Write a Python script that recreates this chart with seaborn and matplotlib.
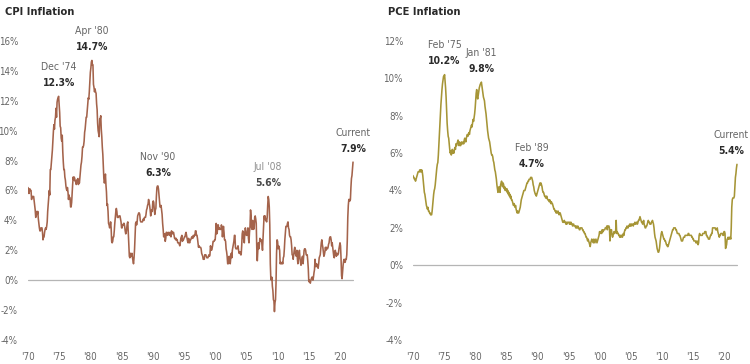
import matplotlib
matplotlib.use("Agg")
import matplotlib.pyplot as plt
import seaborn as sns
import pandas as pd
import numpy as np

sns.set_theme(style="white")
plt.rcParams['font.family'] = ['DejaVu Sans']
plt.rcParams['font.stretch'] = 'condensed'

start_month = "1970-01"

# CPI year-over-year inflation, monthly, Jan 1970 - Feb 2022 (%)
cpi_values = [
    6.2, 6.1, 5.8, 6.1, 6.1, 6.0, 6.0, 5.4, 5.6, 5.6, 5.6, 5.6,   # 1970
    5.3, 5.0, 4.7, 4.2, 4.4, 4.6, 4.4, 4.6, 4.1, 3.8, 3.5, 3.3,   # 1971
    3.3, 3.5, 3.5, 3.5, 3.2, 2.7, 2.9, 2.9, 3.2, 3.4, 3.5, 3.4,   # 1972
    3.6, 3.9, 4.6, 5.1, 5.5, 6.0, 5.7, 7.4, 7.4, 7.8, 8.3, 8.7,   # 1973
    9.4, 10.0, 10.4, 10.1, 10.7, 10.9, 11.5, 10.9, 11.9, 12.1, 12.2, 12.3,  # 1974
    11.8, 11.2, 10.3, 10.2, 9.5, 9.3, 9.7, 8.6, 7.9, 7.4, 7.4, 6.9,  # 1975
    6.7, 6.3, 6.1, 6.0, 6.2, 5.9, 5.4, 5.7, 5.5, 5.5, 4.9, 4.9,   # 1976
    5.2, 5.9, 6.4, 6.9, 6.7, 6.9, 6.8, 6.6, 6.6, 6.4, 6.7, 6.7,   # 1977
    6.8, 6.4, 6.6, 6.5, 6.9, 7.4, 7.7, 7.9, 8.3, 8.9, 8.9, 9.0,   # 1978
    9.3, 9.9, 10.1, 10.5, 10.9, 10.9, 11.3, 11.8, 12.2, 12.1, 12.6, 13.3,  # 1979
    13.9, 14.2, 14.6, 14.7, 14.4, 14.4, 13.1, 12.9, 12.6, 12.8, 12.6, 12.5,  # 1980
    11.8, 11.4, 10.5, 10.0, 9.8, 9.6, 10.8, 10.8, 11.0, 10.1, 9.6, 8.9,  # 1981
    8.4, 7.6, 6.8, 6.5, 6.7, 7.1, 6.4, 5.9, 5.0, 5.1, 4.6, 3.8,   # 1982
    3.7, 3.5, 3.6, 3.9, 3.5, 2.6, 2.5, 2.6, 2.9, 2.9, 3.3, 3.8,   # 1983
    4.2, 4.6, 4.8, 4.6, 4.2, 4.2, 4.2, 4.3, 4.3, 4.3, 4.1, 3.9,   # 1984
    3.5, 3.5, 3.7, 3.7, 3.8, 3.8, 3.6, 3.3, 3.1, 3.2, 3.5, 3.8,   # 1985
    3.9, 3.1, 2.3, 1.6, 1.5, 1.8, 1.6, 1.6, 1.8, 1.5, 1.3, 1.1,   # 1986
    1.5, 2.1, 3.0, 3.8, 3.9, 3.7, 3.9, 4.3, 4.4, 4.5, 4.5, 4.4,   # 1987
    4.0, 3.9, 3.9, 3.9, 3.9, 4.0, 4.1, 4.0, 4.2, 4.2, 4.2, 4.4,   # 1988
    4.7, 4.8, 5.0, 5.1, 5.4, 5.2, 5.0, 4.7, 4.3, 4.5, 4.7, 4.6,   # 1989
    5.2, 5.3, 5.2, 4.7, 4.4, 4.7, 4.8, 5.6, 6.2, 6.3, 6.3, 6.1,   # 1990
    5.7, 5.3, 4.9, 4.9, 5.0, 4.7, 4.4, 3.8, 3.4, 2.9, 3.0, 3.1,   # 1991
    2.6, 2.8, 3.2, 3.2, 3.0, 3.1, 3.2, 3.1, 3.0, 3.2, 3.0, 2.9,   # 1992
    3.3, 3.2, 3.1, 3.2, 3.2, 3.0, 2.8, 2.8, 2.7, 2.8, 2.7, 2.7,   # 1993
    2.5, 2.5, 2.5, 2.4, 2.3, 2.5, 2.8, 2.9, 3.0, 2.6, 2.7, 2.7,   # 1994
    2.8, 2.9, 2.9, 3.1, 3.2, 3.0, 2.8, 2.6, 2.5, 2.8, 2.6, 2.5,   # 1995
    2.7, 2.7, 2.8, 2.9, 2.9, 2.8, 3.0, 2.9, 3.0, 3.0, 3.3, 3.3,   # 1996
    3.0, 3.0, 2.8, 2.5, 2.2, 2.3, 2.2, 2.2, 2.2, 2.1, 1.8, 1.7,   # 1997
    1.6, 1.4, 1.4, 1.4, 1.7, 1.7, 1.7, 1.6, 1.5, 1.5, 1.5, 1.6,   # 1998
    1.7, 1.6, 1.7, 2.3, 2.1, 2.0, 2.1, 2.3, 2.6, 2.6, 2.6, 2.7,   # 1999
    2.7, 3.2, 3.8, 3.1, 3.2, 3.7, 3.7, 3.4, 3.5, 3.4, 3.4, 3.4,   # 2000
    3.7, 3.5, 2.9, 3.3, 3.6, 3.2, 2.7, 2.7, 2.6, 2.1, 1.9, 1.6,   # 2001
    1.1, 1.1, 1.5, 1.6, 1.2, 1.1, 1.5, 1.8, 1.5, 2.0, 2.2, 2.4,   # 2002
    2.6, 3.0, 3.0, 2.2, 2.1, 2.1, 2.1, 2.2, 2.3, 2.0, 1.8, 1.9,   # 2003
    1.9, 1.7, 1.7, 2.3, 3.1, 3.3, 3.0, 2.7, 2.5, 3.2, 3.5, 3.3,   # 2004
    3.0, 3.0, 3.1, 3.5, 2.8, 2.5, 3.2, 3.6, 4.7, 4.3, 3.5, 3.4,   # 2005
    4.0, 3.6, 3.4, 3.5, 4.2, 4.3, 4.1, 3.8, 2.1, 1.3, 2.0, 2.5,   # 2006
    2.1, 2.4, 2.8, 2.6, 2.7, 2.7, 2.4, 2.0, 2.8, 3.5, 4.3, 4.1,   # 2007
    4.3, 4.0, 4.0, 3.9, 4.2, 5.0, 5.6, 5.4, 4.9, 3.7, 1.1, 0.1,   # 2008
    0.0, 0.2, -0.4, -0.7, -1.3, -1.4, -2.1, -1.5, -1.3, -0.2, 1.8, 2.7,  # 2009
    2.6, 2.1, 2.3, 2.2, 2.0, 1.1, 1.2, 1.1, 1.1, 1.2, 1.1, 1.5,   # 2010
    1.6, 2.1, 2.7, 3.2, 3.6, 3.6, 3.6, 3.8, 3.9, 3.5, 3.4, 3.0,   # 2011
    2.9, 2.9, 2.7, 2.3, 1.7, 1.7, 1.4, 1.7, 2.0, 2.2, 1.8, 1.7,   # 2012
    1.6, 2.0, 1.5, 1.1, 1.4, 1.8, 2.0, 1.5, 1.2, 1.0, 1.2, 1.5,   # 2013
    1.6, 1.1, 1.5, 2.0, 2.1, 2.1, 2.0, 1.7, 1.7, 1.7, 1.3, 0.8,   # 2014
    -0.1, 0.0, -0.1, -0.2, 0.0, 0.1, 0.2, 0.2, 0.0, 0.2, 0.5, 0.7,  # 2015
    1.4, 1.0, 0.9, 1.1, 1.0, 1.0, 0.8, 1.1, 1.5, 1.6, 1.7, 2.1,   # 2016
    2.5, 2.7, 2.4, 2.2, 1.9, 1.6, 1.7, 1.9, 2.2, 2.0, 2.2, 2.1,   # 2017
    2.1, 2.2, 2.4, 2.5, 2.8, 2.9, 2.9, 2.7, 2.3, 2.5, 2.2, 1.9,   # 2018
    1.6, 1.5, 1.9, 2.0, 1.8, 1.6, 1.8, 1.7, 1.7, 1.8, 2.1, 2.3,   # 2019
    2.5, 2.3, 1.5, 0.3, 0.1, 0.6, 1.0, 1.3, 1.4, 1.2, 1.2, 1.4,   # 2020
    1.4, 1.7, 2.6, 4.2, 5.0, 5.4, 5.4, 5.3, 5.4, 6.2, 6.8, 7.0,   # 2021
    7.5, 7.9,                                                    # 2022
]

# Core PCE year-over-year inflation, monthly, Jan 1970 - Feb 2022 (%)
pce_values = [
    4.8, 4.7, 4.7, 4.6, 4.6, 4.5, 4.6, 4.7, 4.8, 4.9, 5.0, 5.0,   # 1970
    5.0, 5.1, 5.0, 5.1, 5.0, 5.1, 5.0, 4.8, 4.5, 4.2, 3.9, 3.8,   # 1971
    3.6, 3.4, 3.2, 3.1, 3.0, 3.1, 2.9, 2.9, 2.8, 2.8, 2.7, 2.7,   # 1972
    2.7, 2.9, 3.2, 3.5, 3.8, 4.0, 4.1, 4.3, 4.6, 4.9, 5.2, 5.4,   # 1973
    5.5, 5.9, 6.4, 7.0, 7.6, 8.1, 8.6, 9.0, 9.4, 9.7, 9.9, 10.1,  # 1974
    10.1, 10.2, 9.9, 9.5, 9.0, 8.3, 7.6, 7.2, 6.9, 6.8, 6.5, 6.2,  # 1975
    6.0, 6.1, 5.9, 6.0, 6.2, 6.0, 6.1, 6.0, 6.2, 6.3, 6.2, 6.5,   # 1976
    6.4, 6.5, 6.6, 6.7, 6.5, 6.4, 6.6, 6.5, 6.4, 6.5, 6.6, 6.5,   # 1977
    6.5, 6.6, 6.5, 6.7, 6.8, 6.7, 6.6, 6.8, 6.9, 7.0, 6.9, 7.0,   # 1978
    7.1, 7.0, 7.2, 7.3, 7.4, 7.5, 7.4, 7.6, 7.8, 7.7, 7.9, 8.1,   # 1979
    8.4, 8.8, 9.2, 9.4, 9.0, 8.9, 9.1, 9.3, 9.5, 9.6, 9.7, 9.7,   # 1980
    9.8, 9.6, 9.4, 9.2, 9.0, 8.9, 8.8, 8.5, 8.3, 8.1, 7.8, 7.5,   # 1981
    7.2, 7.0, 6.8, 6.7, 6.6, 6.4, 6.2, 6.0, 5.9, 5.9, 5.8, 5.6,   # 1982
    5.5, 5.3, 5.1, 5.0, 4.8, 4.6, 4.3, 4.1, 3.9, 4.0, 4.2, 4.1,   # 1983
    3.9, 4.3, 4.4, 4.5, 4.3, 4.2, 4.4, 4.3, 4.1, 4.2, 4.0, 4.1,   # 1984
    4.0, 4.1, 3.9, 4.0, 3.8, 3.9, 3.7, 3.8, 3.6, 3.7, 3.5, 3.5,   # 1985
    3.4, 3.3, 3.2, 3.3, 3.2, 3.1, 3.2, 3.0, 2.9, 2.8, 2.9, 2.8,   # 1986
    2.8, 2.9, 3.0, 3.1, 3.3, 3.5, 3.6, 3.7, 3.8, 3.9, 4.0, 4.0,   # 1987
    4.0, 4.1, 4.2, 4.3, 4.4, 4.4, 4.5, 4.5, 4.6, 4.6, 4.6, 4.7,   # 1988
    4.7, 4.7, 4.6, 4.5, 4.3, 4.2, 4.0, 3.9, 3.8, 3.8, 3.7, 3.8,   # 1989
    3.9, 4.0, 4.1, 4.2, 4.3, 4.4, 4.3, 4.4, 4.3, 4.2, 4.0, 3.9,   # 1990
    3.9, 3.8, 3.7, 3.7, 3.6, 3.6, 3.7, 3.6, 3.5, 3.5, 3.5, 3.4,   # 1991
    3.5, 3.4, 3.3, 3.4, 3.3, 3.3, 3.2, 3.1, 3.0, 3.0, 2.9, 2.9,   # 1992
    2.8, 2.9, 2.8, 2.8, 2.9, 2.8, 2.7, 2.8, 2.8, 2.7, 2.6, 2.5,   # 1993
    2.4, 2.3, 2.3, 2.3, 2.4, 2.3, 2.3, 2.2, 2.3, 2.2, 2.3, 2.3,   # 1994
    2.3, 2.3, 2.2, 2.3, 2.2, 2.3, 2.2, 2.2, 2.1, 2.2, 2.2, 2.1,   # 1995
    2.1, 2.1, 2.0, 2.1, 2.0, 2.0, 2.1, 2.0, 2.0, 1.9, 1.9, 2.0,   # 1996
    2.0, 2.0, 2.0, 1.9, 1.9, 1.8, 1.8, 1.7, 1.7, 1.6, 1.5, 1.5,   # 1997
    1.4, 1.3, 1.4, 1.3, 1.2, 1.1, 1.0, 1.2, 1.3, 1.4, 1.3, 1.3,   # 1998
    1.2, 1.4, 1.3, 1.2, 1.3, 1.4, 1.3, 1.2, 1.3, 1.4, 1.5, 1.6,   # 1999
    1.8, 1.7, 1.8, 1.8, 1.7, 1.9, 1.8, 1.8, 1.9, 1.9, 1.9, 2.0,   # 2000
    2.0, 2.0, 2.1, 1.9, 2.1, 2.1, 2.1, 2.0, 1.3, 1.8, 1.9, 1.9,   # 2001
    1.6, 1.5, 1.6, 1.7, 1.8, 1.7, 1.8, 1.8, 2.4, 1.7, 1.8, 1.7,   # 2002
    1.7, 1.6, 1.6, 1.5, 1.6, 1.5, 1.6, 1.6, 1.5, 1.6, 1.7, 1.6,   # 2003
    1.8, 1.9, 1.9, 2.0, 2.0, 2.1, 2.0, 2.0, 2.1, 2.1, 2.2, 2.1,   # 2004
    2.2, 2.1, 2.2, 2.2, 2.2, 2.1, 2.2, 2.2, 2.3, 2.2, 2.2, 2.3,   # 2005
    2.3, 2.2, 2.3, 2.4, 2.4, 2.5, 2.6, 2.5, 2.4, 2.3, 2.3, 2.2,   # 2006
    2.3, 2.4, 2.2, 2.1, 2.0, 2.0, 2.1, 2.1, 2.2, 2.3, 2.4, 2.3,   # 2007
    2.3, 2.2, 2.2, 2.2, 2.3, 2.3, 2.4, 2.3, 2.2, 2.0, 1.7, 1.5,   # 2008
    1.4, 1.3, 1.1, 0.9, 0.8, 0.7, 0.7, 0.8, 1.0, 1.3, 1.5, 1.7,   # 2009
    1.8, 1.7, 1.6, 1.5, 1.4, 1.4, 1.3, 1.3, 1.2, 1.1, 1.1, 1.0,   # 2010
    1.0, 1.1, 1.2, 1.3, 1.4, 1.5, 1.6, 1.7, 1.8, 1.9, 1.9, 2.0,   # 2011
    2.0, 2.0, 2.0, 1.9, 1.9, 1.8, 1.7, 1.7, 1.7, 1.7, 1.6, 1.6,   # 2012
    1.5, 1.4, 1.3, 1.3, 1.3, 1.4, 1.5, 1.5, 1.5, 1.6, 1.6, 1.6,   # 2013
    1.6, 1.6, 1.6, 1.7, 1.7, 1.6, 1.6, 1.6, 1.6, 1.6, 1.5, 1.5,   # 2014
    1.4, 1.4, 1.3, 1.3, 1.3, 1.3, 1.2, 1.2, 1.3, 1.2, 1.1, 1.2,   # 2015
    1.6, 1.7, 1.6, 1.6, 1.6, 1.6, 1.6, 1.7, 1.7, 1.7, 1.7, 1.8,   # 2016
    1.8, 1.8, 1.6, 1.6, 1.5, 1.5, 1.4, 1.4, 1.4, 1.5, 1.6, 1.6,   # 2017
    1.7, 1.7, 2.0, 2.0, 2.0, 2.0, 2.0, 2.0, 1.9, 1.9, 1.9, 2.0,   # 2018
    1.8, 1.7, 1.6, 1.5, 1.6, 1.6, 1.7, 1.7, 1.7, 1.7, 1.6, 1.6,   # 2019
    1.8, 1.8, 1.7, 0.9, 1.0, 1.1, 1.4, 1.4, 1.5, 1.4, 1.4, 1.5,   # 2020
    1.5, 1.4, 2.0, 3.1, 3.5, 3.6, 3.6, 3.6, 3.7, 4.2, 4.7, 4.9,   # 2021
    5.2, 5.4,                                                    # 2022
]

cpi_callouts = [("1974-12", "Dec '74"), ("1980-04", "Apr '80"),
                ("1990-11", "Nov '90"), ("2008-07", "Jul '08")]
pce_callouts = [("1975-02", "Feb '75"), ("1981-01", "Jan '81"),
                ("1989-02", "Feb '89")]

tick_years = list(range(1970, 2021, 5))
tick_labels = ["'" + str(y)[2:] for y in tick_years]

cpi_yticks = [-4, -2, 0, 2, 4, 6, 8, 10, 12, 14, 16]
pce_yticks = [-4, -2, 0, 2, 4, 6, 8, 10, 12]

CPI_COLOR = "#A4634B"
PCE_COLOR = "#A69536"
GRAY_TXT = "#666666"
DARK_TXT = "#2a2a2a"

cpi_df = pd.DataFrame({"date": pd.date_range(start_month, periods=len(cpi_values), freq="MS"),
                       "value": cpi_values})
pce_df = pd.DataFrame({"date": pd.date_range(start_month, periods=len(pce_values), freq="MS"),
                       "value": pce_values})

fig = plt.figure(figsize=(7.5, 3.64), dpi=100)
W, H = 750.0, 364.0
X_LO, X_HI = pd.Timestamp("1969-12-17"), pd.Timestamp("2022-04-20")


def make_axes(x0_px, px_per_year, y_top_px, y_bot_px):
    left = x0_px - 0.05 * px_per_year
    right = x0_px + 52.3 * px_per_year
    return fig.add_axes([left / W, (H - y_bot_px) / H, (right - left) / W, (y_bot_px - y_top_px) / H])


ax1 = make_axes(28, 6.24, 41, 340)
ax2 = make_axes(413, 6.22, 41, 340)


def style_panel(ax, df, color, yticks, callouts, special=None, current_dx=0.0):
    sns.lineplot(data=df, x="date", y="value", ax=ax, color=color, linewidth=1.15)
    ax.set_xlim(X_LO, X_HI)
    ax.set_ylim(yticks[0], yticks[-1])
    ax.axhline(0, xmin=0.001, xmax=(df["date"].iloc[-1] - X_LO) / (X_HI - X_LO),
               color="#b5b5b5", linewidth=0.9, zorder=0)
    ax.set_xticks([pd.Timestamp(f"{y}-01-01") for y in tick_years])
    ax.set_xticklabels(tick_labels)
    ax.set_yticks(yticks)
    ax.set_yticklabels([f"{t}%" for t in yticks])
    ax.tick_params(axis="both", length=0, labelsize=7, labelcolor=GRAY_TXT)
    ax.tick_params(axis="y", pad=7)
    ax.tick_params(axis="x", pad=9)
    ax.set_xlabel("")
    ax.set_ylabel("")
    for s in ax.spines.values():
        s.set_visible(False)
    ax.set_facecolor("none")
    ax.grid(False)

    items = []
    for month, lab in callouts:
        d = pd.Timestamp(month + "-01")
        v = float(df.loc[df["date"] == d, "value"].iloc[0])
        items.append((d, v, lab, 0.0))
    items.append((df["date"].iloc[-1], float(df["value"].iloc[-1]), "Current", current_dx))
    for d, v, lab, dx in items:
        dcol, vcol = GRAY_TXT, DARK_TXT
        if special is not None and lab == special:
            dcol, vcol = "#8f8f8f", "#4a4a4a"
        ax.annotate(lab, (d, v), xytext=(dx, 21), textcoords="offset points",
                    ha="center", va="center", fontsize=7.5, color=dcol, annotation_clip=False)
        ax.annotate(f"{v:.1f}%", (d, v), xytext=(dx, 9.6), textcoords="offset points",
                    ha="center", va="center", fontsize=7.5, fontweight="bold", color=vcol,
                    annotation_clip=False)


style_panel(ax1, cpi_df, CPI_COLOR, cpi_yticks, cpi_callouts, special="Jul '08")
style_panel(ax2, pce_df, PCE_COLOR, pce_yticks, pce_callouts, current_dx=-4.0)

fig.text(5 / W, 1 - 12 / H, "CPI Inflation", ha="left", va="center", fontsize=8,
         fontweight="bold", color=DARK_TXT)
fig.text(388 / W, 1 - 12 / H, "PCE Inflation", ha="left", va="center", fontsize=8,
         fontweight="bold", color=DARK_TXT)

fig.savefig("out.png", dpi=100, facecolor="white")
